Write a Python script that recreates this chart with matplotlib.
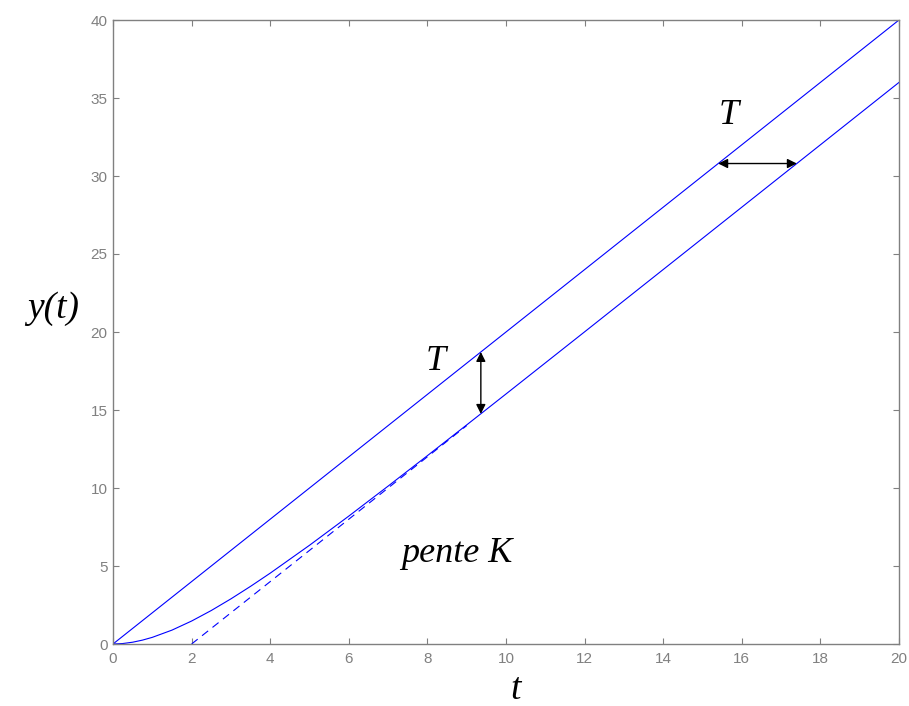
import matplotlib
matplotlib.use("Agg")
import matplotlib.pyplot as plt

# data
t_line = [0, 20]
y_line = [0, 40]

t_resp = [0, 0.25, 0.5, 0.75, 1, 1.5, 2, 2.5, 3, 3.5, 4, 5, 6, 7, 8, 9, 10, 12, 14, 16, 18, 20]
y_resp = [0, 0.030, 0.115, 0.249, 0.426, 0.889, 1.472, 2.146, 2.893, 3.696, 4.541, 6.328, 8.199,
          10.121, 12.073, 14.044, 16.027, 20.010, 24.004, 28.001, 32.0, 36.0]

t_asym = [2, 9]
y_asym = [0, 14]

# annotation arrows: (x0, y0, x1, y1)
arrow_v = (9.36, 14.75, 9.36, 18.72)
arrow_h = (15.4, 30.8, 17.4, 30.8)

xticks = list(range(0, 21, 2))
yticks = list(range(0, 41, 5))

fig = plt.figure(figsize=(9.09, 7.06), dpi=100)
ax = fig.add_axes([113/909, 62/706, 786/909, 624/706])

blue = "#0000ff"
ax.plot(t_line, y_line, color=blue, lw=0.8)
ax.plot(t_resp, y_resp, color=blue, lw=0.8)
ax.plot(t_asym, y_asym, color=blue, lw=0.8, ls=(0, (7, 5)))

for (x0, y0, x1, y1) in (arrow_v, arrow_h):
    ax.annotate("", xy=(x1, y1), xytext=(x0, y0),
                arrowprops=dict(arrowstyle="<|-|>", color="black", lw=1,
                                mutation_scale=14, shrinkA=0, shrinkB=0))

serif = dict(family="Liberation Serif", style="italic")
ax.text(8.22, 18.14, "T", fontsize=26, ha="center", va="center", **serif)
ax.text(15.67, 33.85, "T", fontsize=26, ha="center", va="center", **serif)
ax.text(8.75, 5.77, "pente K", fontsize=26, ha="center", va="center", **serif)

fig.text(53/909, 1 - 309/706, "y(t)", fontsize=27, ha="center", va="center", **serif)
fig.text(516/909, 1 - 699/706, "t", fontsize=27, ha="center", va="baseline", **serif)

ax.set_xlim(0, 20)
ax.set_ylim(0, 40)
ax.set_xticks(xticks)
ax.set_yticks(yticks)
gray = "#808080"
for s in ax.spines.values():
    s.set_color(gray)
    s.set_linewidth(1)
ax.tick_params(direction="in", length=4, color=gray, labelcolor=gray,
               labelsize=11, top=True, right=True)
ax.tick_params(axis="x", pad=6)
ax.tick_params(axis="y", pad=4)
for lab in ax.get_xticklabels() + ax.get_yticklabels():
    lab.set_family("Liberation Sans")

fig.savefig("out.png", dpi=100)
